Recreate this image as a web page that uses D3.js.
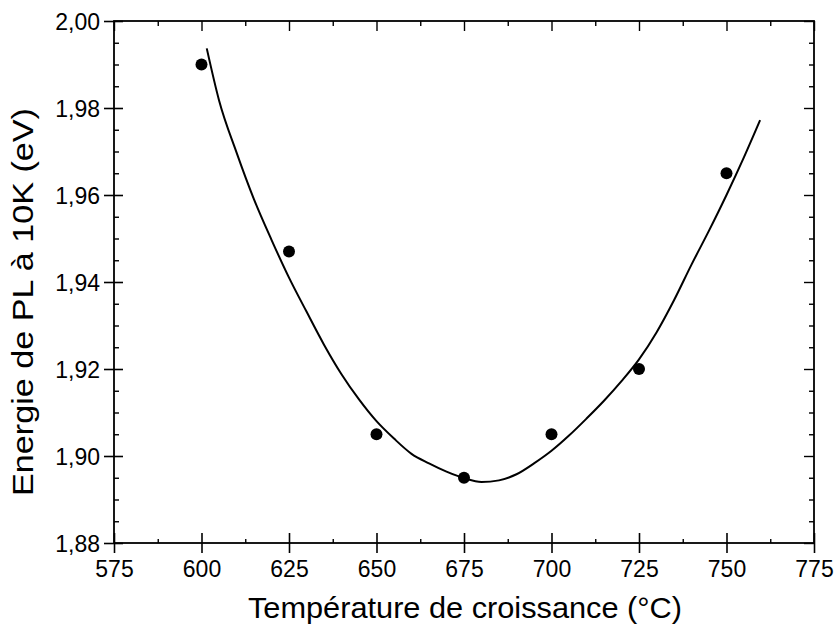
<!DOCTYPE html>
<html>
<head>
<meta charset="utf-8">
<script src="https://cdn.jsdelivr.net/npm/d3@7"></script>
<style>
  html, body { margin: 0; padding: 0; background: #fff; }
  svg { display: block; font-family: "Liberation Sans", Arial, Helvetica, sans-serif; }
</style>
</head>
<body>
<svg id="chart" width="838" height="624"></svg>
<script>
// ---- data ----
const temperatures = [600, 625, 650, 675, 700, 725, 750];
const energies = [1.990, 1.947, 1.905, 1.895, 1.905, 1.920, 1.965];

const fitTemperatures = [601.5, 605, 610, 615, 620, 625, 630, 635, 640, 645, 650, 655, 660, 665, 670, 675, 680, 685, 690, 695, 700, 705, 710, 715, 720, 725, 730, 735, 740, 745, 750, 755, 759.6];
const fitEnergies = [1.9937, 1.9818, 1.9698, 1.9590, 1.9497, 1.9410, 1.9332, 1.9256, 1.9188, 1.9130, 1.9080, 1.9040, 1.9005, 1.8983, 1.8964, 1.8949, 1.8940, 1.8944, 1.8958, 1.8983, 1.9012, 1.9047, 1.9086, 1.9127, 1.9172, 1.9222, 1.9284, 1.9358, 1.9440, 1.9518, 1.9600, 1.9687, 1.9772];

const xMajorTicks = [575, 600, 625, 650, 675, 700, 725, 750, 775];
const xMinorTicks = [587.5, 612.5, 637.5, 662.5, 687.5, 712.5, 737.5, 762.5];
const yMajorTicks = [1.88, 1.90, 1.92, 1.94, 1.96, 1.98, 2.00];
const yMinorTicks = [1.885, 1.89, 1.895, 1.905, 1.91, 1.915, 1.925, 1.93, 1.935, 1.945, 1.95, 1.955, 1.965, 1.97, 1.975, 1.985, 1.99, 1.995];

const xTitle = "Température de croissance (°C)";
const yTitle = "Energie de PL à 10K (eV)";

// ---- layout ----
const L = 114, R = 814, T = 21, B = 543;
const svg = d3.select("#chart");
const x = d3.scaleLinear().domain([575, 775]).range([L, R]);
const y = d3.scaleLinear().domain([1.88, 2.00]).range([B, T]);
const fr = d3.formatLocale({decimal: ",", thousands: ".", grouping: [3], currency: ["", "€"]});
const yFmt = fr.format(".2f");

svg.append("rect").attr("width", 838).attr("height", 624).attr("fill", "#fff");

// frame
svg.append("rect").attr("x", L).attr("y", T).attr("width", R - L).attr("height", B - T)
  .attr("fill", "none").attr("stroke", "#000").attr("stroke-width", 1.8);

// bottom axis (major crossing ticks)
const gB = svg.append("g").attr("transform", `translate(0,${B})`)
  .call(d3.axisBottom(x).tickValues(xMajorTicks).tickSizeOuter(0).tickFormat(d3.format("d")));
gB.select(".domain").remove();
gB.selectAll(".tick line").attr("y1", -10).attr("y2", 10).attr("stroke-width", 1.6);
gB.selectAll(".tick text").attr("y", 18).attr("dy", "0.71em").attr("font-size", 23).attr("fill", "#000");
const gBm = svg.append("g").attr("transform", `translate(0,${B})`)
  .call(d3.axisBottom(x).tickValues(xMinorTicks).tickSize(-4).tickSizeOuter(0).tickFormat(""));
gBm.select(".domain").remove();
gBm.selectAll(".tick line").attr("stroke-width", 1.4);

// top axis
const gT = svg.append("g").attr("transform", `translate(0,${T})`)
  .call(d3.axisTop(x).tickValues(xMajorTicks).tickSize(-10).tickSizeOuter(0).tickFormat(""));
gT.select(".domain").remove();
gT.selectAll(".tick line").attr("stroke-width", 1.4);
const gTm = svg.append("g").attr("transform", `translate(0,${T})`)
  .call(d3.axisTop(x).tickValues(xMinorTicks).tickSize(-5).tickSizeOuter(0).tickFormat(""));
gTm.select(".domain").remove();
gTm.selectAll(".tick line").attr("stroke-width", 1.4);

// left axis
const gL = svg.append("g").attr("transform", `translate(${L},0)`)
  .call(d3.axisLeft(y).tickValues(yMajorTicks).tickSizeOuter(0).tickFormat(yFmt));
gL.select(".domain").remove();
gL.selectAll(".tick line").attr("x1", -10).attr("x2", 9).attr("stroke-width", 1.6);
gL.selectAll(".tick text").attr("x", -14).attr("dy", "0.36em").attr("font-size", 23).attr("fill", "#000");
const gLm = svg.append("g").attr("transform", `translate(${L},0)`)
  .call(d3.axisLeft(y).tickValues(yMinorTicks).tickSize(-5).tickSizeOuter(0).tickFormat(""));
gLm.select(".domain").remove();
gLm.selectAll(".tick line").attr("stroke-width", 1.4);

// right axis
const gR = svg.append("g").attr("transform", `translate(${R},0)`)
  .call(d3.axisRight(y).tickValues(yMajorTicks).tickSize(-10).tickSizeOuter(0).tickFormat(""));
gR.select(".domain").remove();
gR.selectAll(".tick line").attr("stroke-width", 1.4);
const gRm = svg.append("g").attr("transform", `translate(${R},0)`)
  .call(d3.axisRight(y).tickValues(yMinorTicks).tickSize(-5).tickSizeOuter(0).tickFormat(""));
gRm.select(".domain").remove();
gRm.selectAll(".tick line").attr("stroke-width", 1.4);

// fit curve
const fit = fitTemperatures.map((t, i) => [t, fitEnergies[i]]);
svg.append("path").datum(fit)
  .attr("d", d3.line().x(d => x(d[0])).y(d => y(d[1])).curve(d3.curveMonotoneX))
  .attr("fill", "none").attr("stroke", "#000").attr("stroke-width", 2);

// points
svg.append("g").selectAll("circle")
  .data(temperatures.map((t, i) => [t, energies[i]]))
  .join("circle")
  .attr("cx", d => x(d[0])).attr("cy", d => y(d[1])).attr("r", 6).attr("fill", "#000");

// titles
svg.append("text").attr("x", 465).attr("y", 618).attr("text-anchor", "middle")
  .attr("font-size", 30).attr("fill", "#000")
  .attr("textLength", 434).attr("lengthAdjust", "spacingAndGlyphs").text(xTitle);
svg.append("text").attr("transform", `translate(33,302) rotate(-90)`).attr("text-anchor", "middle")
  .attr("font-size", 29).attr("fill", "#000")
  .attr("textLength", 388).attr("lengthAdjust", "spacingAndGlyphs").text(yTitle);
</script>
</body>
</html>
